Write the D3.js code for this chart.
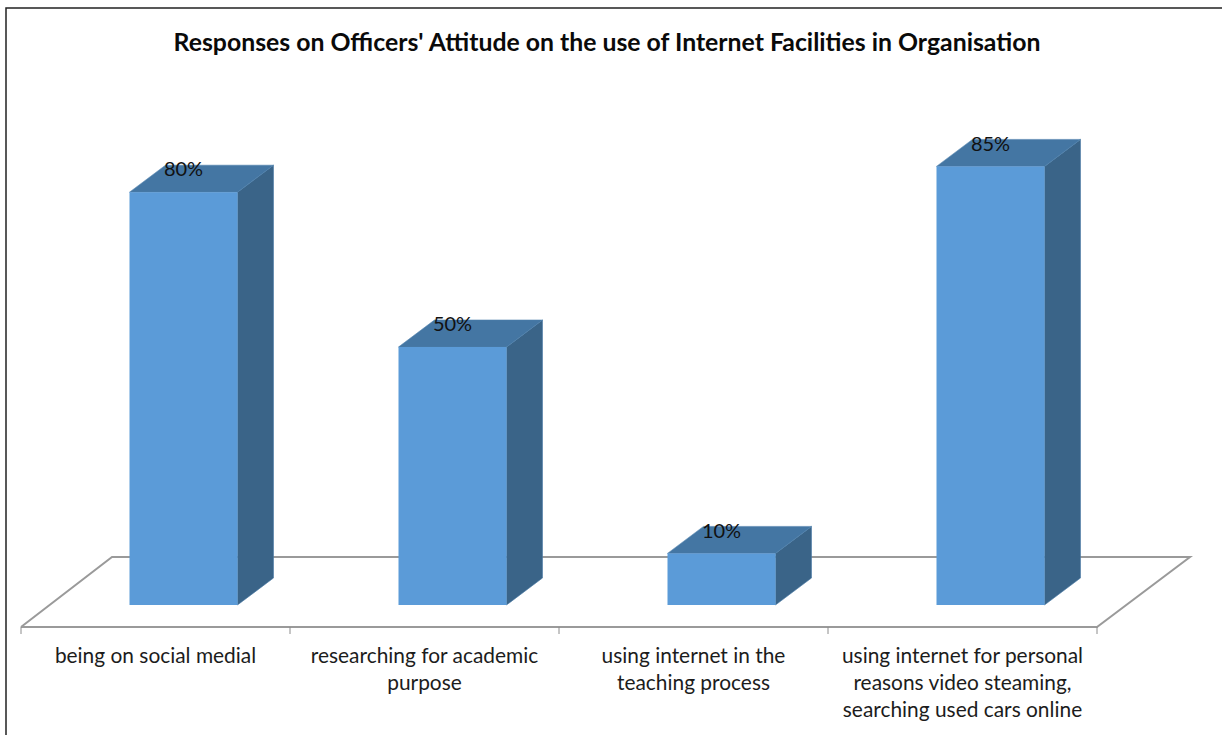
<!DOCTYPE html>
<html>
<head>
<meta charset="utf-8">
<script src="https://cdnjs.cloudflare.com/ajax/libs/d3/7.8.5/d3.min.js"></script>
<style>
html,body{margin:0;padding:0;background:#fff;}
svg{display:block;}
text{font-family:Lato,"Open Sans",sans-serif;}
</style>
</head>
<body>
<svg id="chart" width="1222" height="735"></svg>
<script>
const chartTitle = "Responses on Officers' Attitude on the use of Internet Facilities in Organisation";
const categories = ["a","b","c","d"];
const categoryLines = [
  ["being on social medial"],
  ["researching for academic","purpose"],
  ["using internet in the","teaching process"],
  ["using internet for personal","reasons video steaming,","searching used cars online"]
];
const seriesValues = [80, 50, 10, 85];

const svg = d3.select("#chart");
const floorLeft = 21, floorRight = 1097, floorFront = 627;
const baseY = 605, depthX = 36, depthY = 27, floorDX = 92, floorDY = 70;

const x = d3.scaleBand().domain(categories).range([floorLeft, floorRight])
  .paddingInner(0.5985).paddingOuter(0.29925);
const y = d3.scaleLinear().domain([0, 100]).range([baseY, 89]);

// outer frame
svg.append("rect").attr("x", 6).attr("y", 8).attr("width", 1240).attr("height", 760)
  .attr("fill", "#fff").attr("stroke", "#222").attr("stroke-width", 1.5);

// floor
const floorColor = "#9a9a9a";
svg.append("path")
  .attr("d", d3.line()([[floorLeft, floorFront],[floorLeft+floorDX-1, floorFront-floorDY],[floorRight+floorDX+1, floorFront-floorDY],[floorRight, floorFront],[floorLeft, floorFront]]))
  .attr("fill", "#fff").attr("stroke", floorColor).attr("stroke-width", 2);

// ticks
const tickPositions = categories.map(c => x(c) - x.step() * x.paddingOuter()).concat([floorRight]);
svg.append("g").selectAll("line").data(tickPositions).join("line")
  .attr("x1", d => d).attr("x2", d => d)
  .attr("y1", floorFront).attr("y2", floorFront + 7)
  .attr("stroke", "#8c8c8c").attr("stroke-width", 1);

// bars
const shift = 28;
const bars = svg.append("g").selectAll("g").data(categories.map((c, i) => ({c, v: seriesValues[i], lines: categoryLines[i]}))).join("g");

bars.append("path") // side
  .attr("d", d => {
    const xr = x(d.c) + shift + x.bandwidth(), t = y(d.v);
    return d3.line()([[xr, t],[xr+depthX, t-depthY],[xr+depthX, baseY-depthY],[xr, baseY]]) + "Z";
  })
  .attr("fill", "#3a6488").attr("stroke", "#4a7aa6").attr("stroke-width", 0.6);

bars.append("path") // top
  .attr("d", d => {
    const xl = x(d.c) + shift, xr = xl + x.bandwidth(), t = y(d.v);
    return d3.line()([[xl, t],[xl+depthX, t-depthY],[xr+depthX, t-depthY],[xr, t]]) + "Z";
  })
  .attr("fill", "#4476a3").attr("stroke", "#4f81ad").attr("stroke-width", 0.6);

bars.append("rect") // front
  .attr("x", d => x(d.c) + shift)
  .attr("y", d => y(d.v))
  .attr("width", x.bandwidth())
  .attr("height", d => baseY - y(d.v))
  .attr("fill", "#5b9bd8");

// value labels
bars.append("text")
  .attr("x", d => x(d.c) + shift + x.bandwidth()/2)
  .attr("y", d => y(d.v) - 23)
  .attr("dy", "0.36em")
  .attr("text-anchor", "middle")
  .attr("font-size", 20).attr("fill", "#111")
  .text(d => d.v + "%");

// category labels
const catText = bars.append("text")
  .attr("text-anchor", "middle")
  .attr("font-size", 20.9).attr("fill", "#1c1c1c");
catText.selectAll("tspan").data(d => d.lines.map(l => ({l, c: d.c}))).join("tspan")
  .attr("x", d => x(d.c) + x.bandwidth()/2)
  .attr("y", (d, i) => 663 + i * 27)
  .text(d => d.l);

// title
svg.append("text")
  .attr("x", 607).attr("y", 51)
  .attr("text-anchor", "middle")
  .attr("font-size", 24.8).attr("font-weight", 700).attr("fill", "#0a0a0a")
  .text(chartTitle);
</script>
</body>
</html>
